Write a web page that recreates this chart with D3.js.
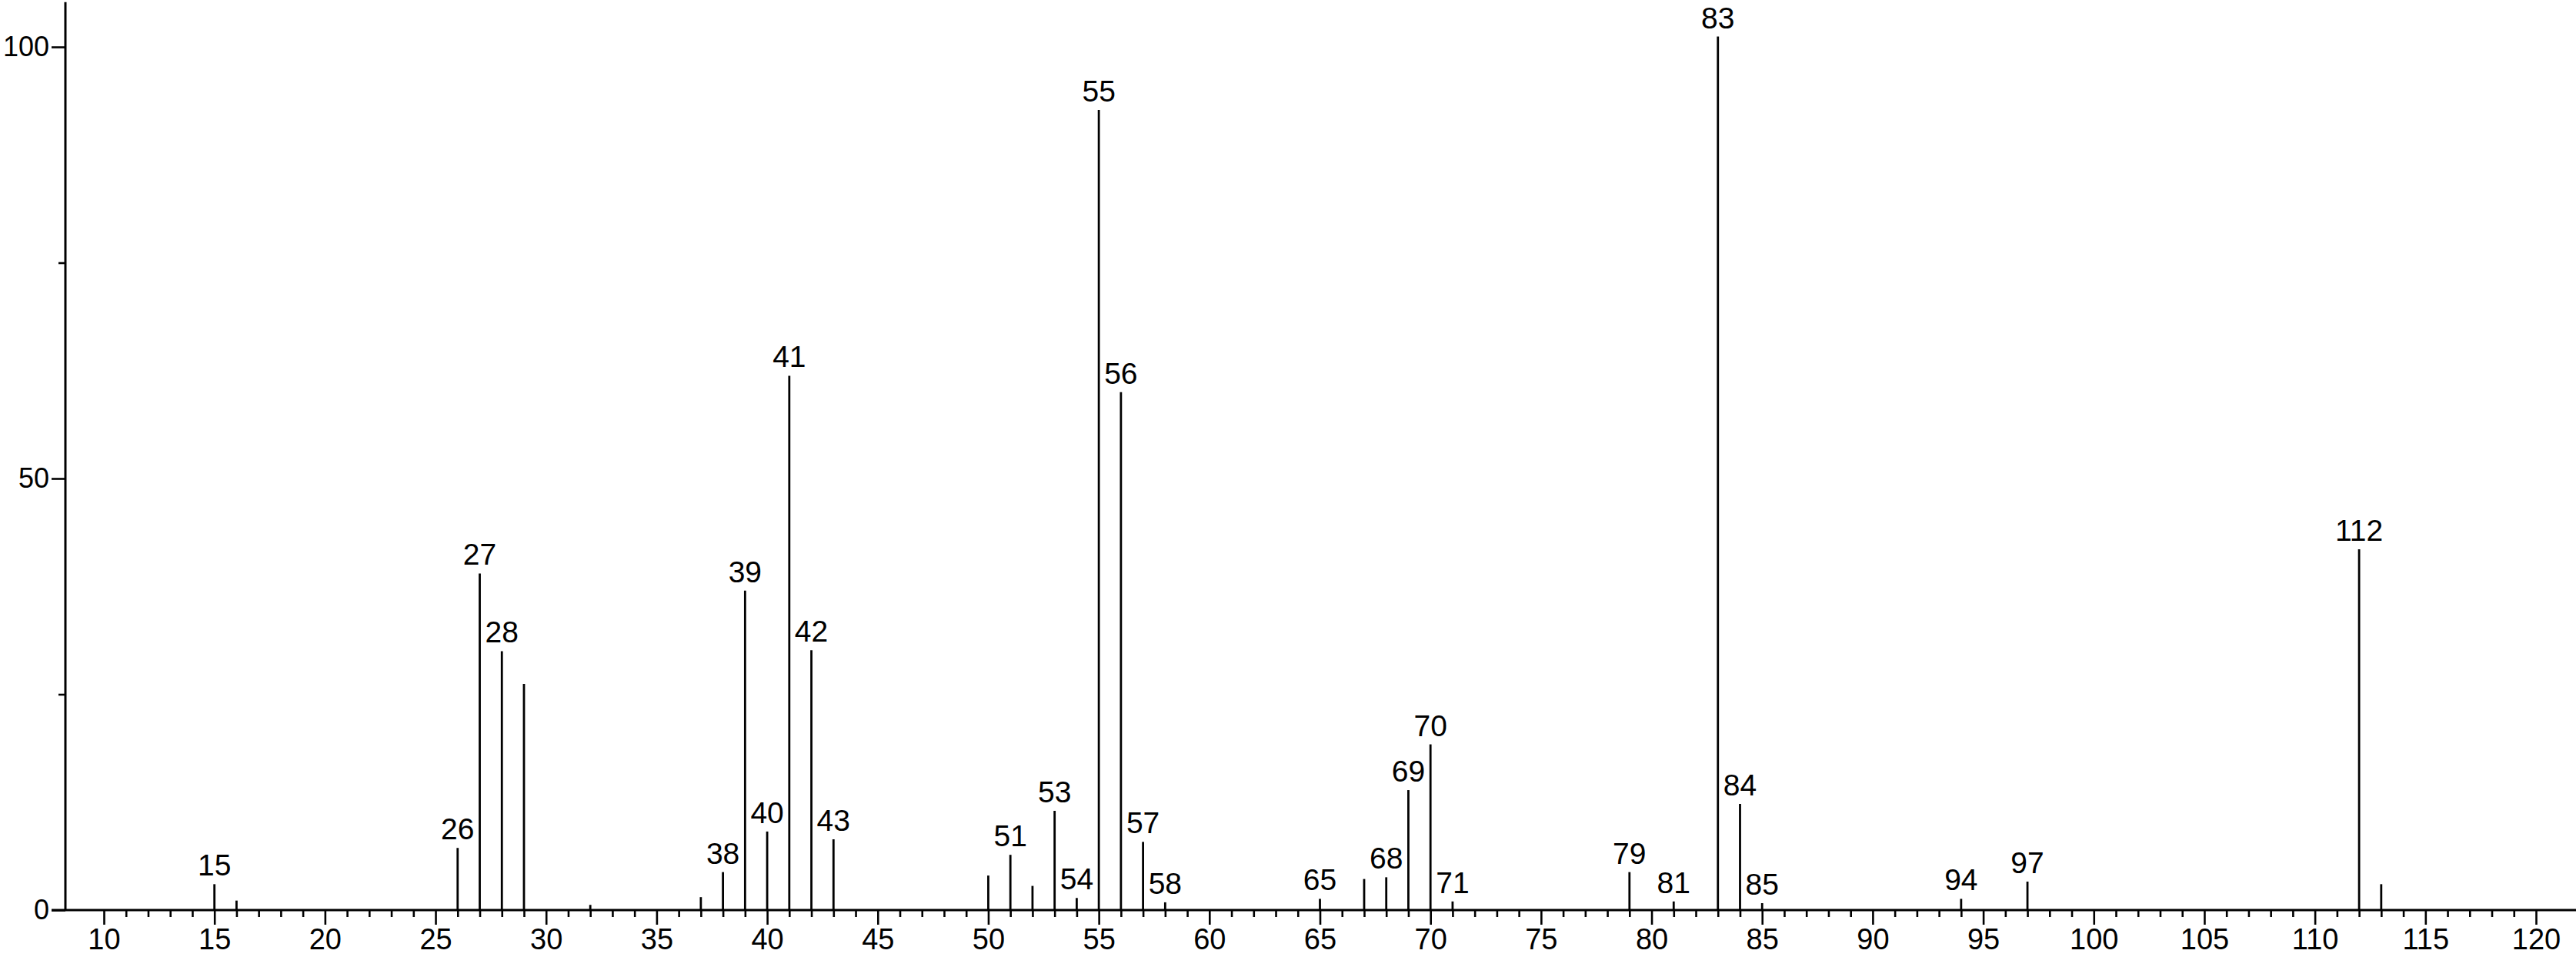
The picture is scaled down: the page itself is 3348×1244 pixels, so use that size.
<!DOCTYPE html>
<html>
<head>
<meta charset="utf-8">
<script src="https://cdn.jsdelivr.net/npm/d3@7"></script>
<style>
  html, body { margin: 0; padding: 0; background: #fff; }
  svg { display: block; }
  text { font-family: "Liberation Sans", Arial, sans-serif; fill: #000; }
</style>
</head>
<body>
<svg id="chart" width="3348" height="1244"></svg>
<script>
// m/z values of the peaks
const mz = [15,16,26,27,28,29,32,37,38,39,40,41,42,43,50,51,52,53,54,55,56,57,58,65,67,68,69,70,71,79,81,83,84,85,94,97,112,113];
// relative intensities
const intensity = [3.0,1.1,7.2,39.0,30.0,26.2,0.6,1.5,4.4,37.0,9.1,61.9,30.1,8.2,4.0,6.4,2.8,11.5,1.4,92.7,60.0,7.9,0.9,1.3,3.6,3.8,13.9,19.2,1.0,4.4,1.0,101.2,12.3,0.8,1.3,3.3,41.8,3.0];
// peaks that carry a text label
const labeled = [15,26,27,28,38,39,40,41,42,43,51,53,54,55,56,57,58,65,68,69,70,71,79,81,83,84,85,94,97,112];
// axis ticks
const xTicks = d3.range(10, 121, 1);
const yTicks = [0, 25, 50, 75, 100];
const yLabelTicks = [0, 50, 100];

const W = 3348, H = 1244;
const svg = d3.select("#chart");
svg.append("rect").attr("width", W).attr("height", H).attr("fill", "#fff");

const x = d3.scaleLinear().domain([10, 120]).range([135, 3296]);
const y = d3.scaleLinear().domain([0, 100]).range([1183, 61]);
const axisX = 85;        // position of vertical axis
const yTop = 105.2;      // value at top of vertical axis line

const data = mz.map((m, i) => ({ mz: m, v: intensity[i] }));

// X axis
const gx = svg.append("g").attr("transform", `translate(0,${y(0)})`)
  .call(d3.axisBottom(x).tickValues(xTicks).tickSize(19).tickPadding(5)
        .tickFormat(d => d % 5 === 0 ? d : ""));
gx.select(".domain").remove();
gx.selectAll(".tick line").attr("stroke", "#000").attr("stroke-width", 2.6)
  .attr("y2", d => d % 5 === 0 ? 19 : 9);
gx.selectAll(".tick text").style("font-size", "38px").attr("fill", "#000");

// Y axis
const gy = svg.append("g").attr("transform", `translate(${axisX},0)`)
  .call(d3.axisLeft(y).tickValues(yTicks).tickSize(18).tickPadding(3)
        .tickFormat(d => yLabelTicks.includes(d) ? d : ""));
gy.select(".domain").remove();
gy.selectAll(".tick line").attr("stroke", "#000").attr("stroke-width", 2.6)
  .attr("x2", d => yLabelTicks.includes(d) ? -18 : -9);
gy.selectAll(".tick text").style("font-size", "36px").attr("fill", "#000");

// axis lines
svg.append("line")
  .attr("x1", axisX - 18).attr("x2", W)
  .attr("y1", y(0)).attr("y2", y(0))
  .attr("stroke", "#000").attr("stroke-width", 3);
svg.append("line")
  .attr("x1", axisX).attr("x2", axisX)
  .attr("y1", y(0)).attr("y2", y(yTop))
  .attr("stroke", "#000").attr("stroke-width", 3);

// peaks
svg.append("g").selectAll("line").data(data).join("line")
  .attr("x1", d => x(d.mz)).attr("x2", d => x(d.mz))
  .attr("y1", y(0)).attr("y2", d => y(d.v))
  .attr("stroke", "#000").attr("stroke-width", 2.8);

// peak labels
svg.append("g").selectAll("text").data(data.filter(d => labeled.includes(d.mz))).join("text")
  .attr("x", d => x(d.mz))
  .attr("y", d => y(d.v) - 11)
  .attr("text-anchor", "middle")
  .style("font-size", "39px")
  .text(d => d.mz);
</script>
</body>
</html>
